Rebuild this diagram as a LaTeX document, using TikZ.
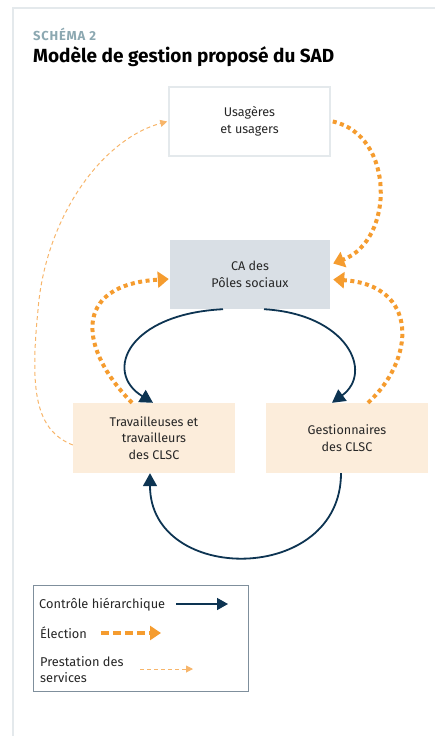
\documentclass[tikz,border=0pt]{standalone}
\usepackage{fontspec}
\setmainfont{Fira Sans}
\usepackage{xcolor}
\usetikzlibrary{arrows.meta}
\usetikzlibrary{calc}

\definecolor{navy}{HTML}{0D3452}
\definecolor{orangeel}{HTML}{F59C2F}
\definecolor{orangepr}{HTML}{F7B56A}
\definecolor{cafill}{HTML}{D9DFE5}
\definecolor{clscfill}{HTML}{FCEDDB}
\definecolor{framegray}{HTML}{E4E9EC}
\definecolor{titlegray}{HTML}{8CA8B1}
\definecolor{legendgray}{HTML}{7F8F9C}

\begin{document}
\begin{tikzpicture}[x=1pt, y=-1pt,
    box/.style={minimum width=162pt, minimum height=70pt, inner sep=0pt,
      align=center, text=black!85, font=\fontsize{12.6}{16.5}\selectfont},
    controle/.style={draw=navy, line width=1.8pt,
      -{Triangle[length=13pt, width=14pt]}},
    election/.style={draw=orangeel, line width=4pt,
      dash pattern=on 4pt off 3.5pt,
      -{Triangle[length=11pt, width=16pt]}},
    prestation/.style={draw=orangepr, line width=1pt,
      dash pattern=on 4pt off 3pt,
      -{Triangle[length=7pt, width=7pt]}},
    legtext/.style={anchor=base west, inner sep=0pt, align=left,
      font=\fontsize{12.8}{16}\selectfont, text=black!85}
  ]

    \useasboundingbox (0, 0) rectangle (435, 736);
    % frame
    \draw [framegray, line width=1.5pt] (13, 736) -- (13, 8) -- (435, 8);

    % title
    \node [anchor=base west, inner sep=0pt, text=titlegray,
      font=\fontsize{13}{14}\selectfont\bfseries\addfontfeatures{LetterSpace=6}]
      (schema) at (33, 40) {SCHÉMA 2};
    \node [anchor=base west, inner sep=0pt,
      font=\fontsize{19}{22}\selectfont\bfseries] (titre) at (33, 62)
      {Modèle de gestion proposé du SAD};

    % boxes
    \node [box, draw=framegray, line width=1.5pt, fill=white,
      minimum width=161pt, minimum height=69pt] (usagers) at (249.5, 121.5)
      {Usagères\\et usagers};
    \node [box, fill=cafill, minimum width=160pt, minimum height=69pt]
      (ca) at (250, 274.5) {CA des\\Pôles sociaux};
    \node [box, fill=clscfill] (trav) at (154, 438)
      {Travailleuses et\\travailleurs\\des CLSC};
    \node [box, fill=clscfill] (gest) at (347, 438)
      {Gestionnaires\\des CLSC};

    % hierarchical control
    \draw [controle] ([xshift=-27pt]ca.south)
      .. controls (128, 314) and (103, 372) .. ([xshift=-1pt]trav.north);
    \draw [controle] ([xshift=14pt]ca.south)
      .. controls (347, 314) and (374, 372) .. ([xshift=-15pt]gest.north);
    \draw [controle] ([xshift=-6pt]gest.south)
      .. controls (341, 585) and (150, 585) .. ([xshift=-4pt]trav.south);

    % elections
    \draw [election] ([xshift=2pt]usagers.east)
      .. controls (395, 135) and (395, 240) .. ([xshift=3pt, yshift=11pt]ca.east);
    \draw [election] ([xshift=21pt]gest.north)
      .. controls (415, 360) and (420, 285) .. ([xshift=3pt, yshift=-5pt]ca.east);
    \draw [election] ([xshift=-22pt]trav.north)
      .. controls (80, 350) and (70, 285) .. ([xshift=-1pt, yshift=-4.5pt]ca.west);

    % service delivery
    \coordinate (bend) at (38, 310);
    \draw [prestation] ([yshift=-7pt]trav.west)
      .. controls (35, 430) and (30, 390) .. (bend)
      .. controls (45, 220) and (100, 140) .. ([xshift=-1pt]usagers.west);

    % legend
    \node [draw=legendgray, line width=1pt, minimum width=215pt,
      minimum height=106pt, inner sep=0pt] (legende) at (140.5, 638) {};
    \node [legtext] (lcontrole) at (39, 608) {Contrôle hiérarchique};
    \node [legtext] (lelection) at (40, 638) {Élection};
    \node [legtext] (lprestation) at (40, 682) {Prestation des\\services};
    \coordinate (c1) at (176, 604);
    \coordinate (c2) at (228, 604);
    \coordinate (e1) at (101, 633);
    \coordinate (e2) at (161, 633);
    \coordinate (p1) at (140, 669);
    \coordinate (p2) at (193, 669);
    \draw [controle, line width=1.5pt,
      -{Triangle[length=11pt, width=12pt]}] (c1) -- (c2);
    \draw [election, line width=3.5pt, dash pattern=on 8pt off 4pt,
      -{Triangle[length=11pt, width=14pt]}] (e1) -- (e2);
    \draw [prestation] (p1) -- (p2);

  \end{tikzpicture}
\end{document}
